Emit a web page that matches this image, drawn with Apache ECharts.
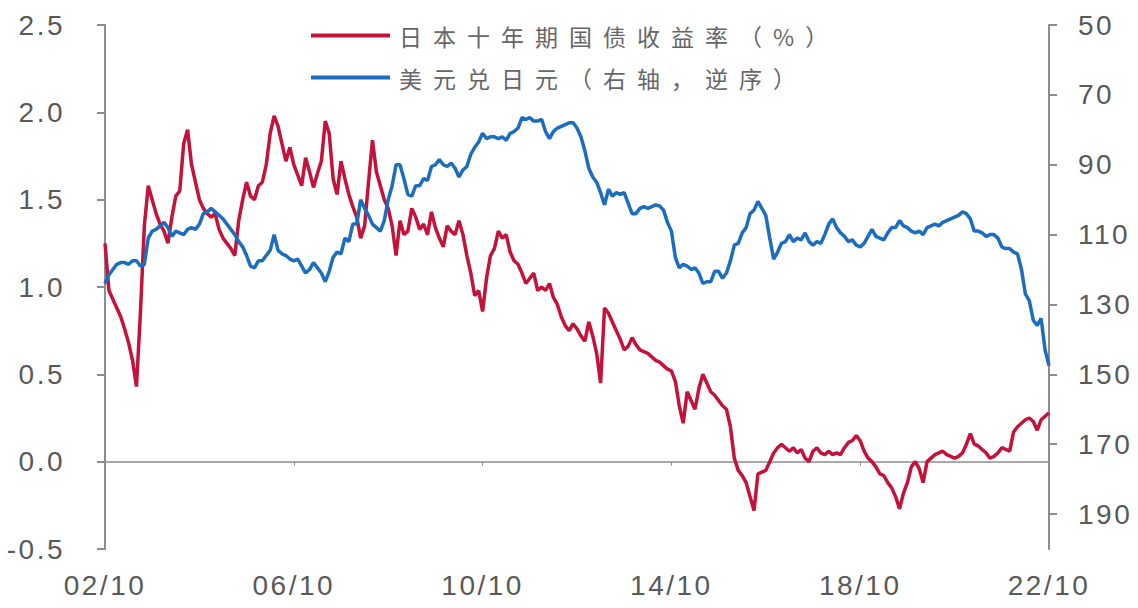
<!DOCTYPE html>
<html>
<head>
<meta charset="utf-8">
<script src="https://cdn.jsdelivr.net/npm/echarts@6/dist/echarts.min.js"></script>
<style>
html,body{margin:0;padding:0;background:#fff;}
#chart{width:1138px;height:608px;}
text[style*="Noto Sans CJK"]{letter-spacing:11px;}
text[style*="Liberation Sans"]{letter-spacing:2.5px;}
</style>
</head>
<body>
<div id="chart"></div>
<script>
// Months from 2002/10 to 2022/10 (category labels)
var startYear = 2002, startMonth = 10, monthCount = 241;
var months = [];
for (var i = 0; i < monthCount; i++) {
  var mm = startMonth - 1 + i;
  var y = startYear + Math.floor(mm / 12);
  var m = (mm % 12) + 1;
  months.push(y + '-' + (m < 10 ? '0' + m : '' + m));
}

var seriesNames = ['日本十年期国债收益率（%）', '美元兑日元（右轴，逆序）'];

// Japan 10Y government bond yield (%), monthly, 2002/10 - 2022/10
var jgb10y = [
  1.25, 0.98, 0.93,
  0.88, 0.83, 0.76, 0.68, 0.58, 0.43, 0.85, 1.35, 1.58, 1.50, 1.42, 1.36,
  1.32, 1.25, 1.40, 1.52, 1.55, 1.82, 1.90, 1.70, 1.60, 1.50, 1.45, 1.42,
  1.40, 1.42, 1.33, 1.28, 1.25, 1.22, 1.18, 1.38, 1.50, 1.60, 1.52, 1.50,
  1.58, 1.60, 1.70, 1.88, 1.98, 1.92, 1.82, 1.72, 1.80, 1.70, 1.64, 1.58,
  1.74, 1.66, 1.57, 1.65, 1.72, 1.95, 1.88, 1.62, 1.53, 1.72, 1.62, 1.53,
  1.46, 1.40, 1.28, 1.35, 1.60, 1.84, 1.66, 1.58, 1.50, 1.45, 1.35, 1.18,
  1.38, 1.30, 1.32, 1.45, 1.40, 1.33, 1.36, 1.30, 1.43, 1.34, 1.28, 1.23,
  1.35, 1.32, 1.30, 1.38, 1.30, 1.18, 1.08, 0.95, 0.98, 0.86, 1.05, 1.18,
  1.22, 1.32, 1.28, 1.30, 1.20, 1.15, 1.13, 1.08, 1.02, 1.05, 1.08, 0.98,
  1.00, 0.98, 1.02, 0.94, 0.90, 0.83, 0.78, 0.75, 0.79, 0.76, 0.72, 0.69,
  0.80, 0.72, 0.62, 0.45, 0.88, 0.85, 0.80, 0.75, 0.70, 0.64, 0.66, 0.71,
  0.67, 0.64, 0.63, 0.62, 0.60, 0.58, 0.57, 0.55, 0.53, 0.52, 0.46, 0.32,
  0.22, 0.40, 0.35, 0.30, 0.42, 0.50, 0.45, 0.40, 0.38, 0.35, 0.32, 0.30,
  0.20, 0.02, -0.05, -0.08, -0.12, -0.20, -0.28, -0.07, -0.06, -0.05, 0.00, 0.05,
  0.08, 0.10, 0.08, 0.06, 0.08, 0.05, 0.07, 0.02, 0.00, 0.06, 0.08, 0.05,
  0.04, 0.06, 0.04, 0.05, 0.04, 0.08, 0.11, 0.12, 0.15, 0.12, 0.06, 0.02,
  0.00, -0.03, -0.07, -0.08, -0.12, -0.15, -0.20, -0.27, -0.18, -0.12, -0.03, 0.00,
  -0.04, -0.12, 0.00, 0.02, 0.04, 0.05, 0.06, 0.04, 0.03, 0.02, 0.03, 0.05,
  0.10, 0.16, 0.10, 0.09, 0.07, 0.05, 0.02, 0.03, 0.05, 0.08, 0.07, 0.06,
  0.17, 0.20, 0.22, 0.24, 0.25, 0.23, 0.18, 0.24, 0.26, 0.28
];

// USD/JPY, monthly, 2002/10 - 2022/10 (right axis, inverted)
var usdjpy = [
  124, 121.5, 120,
  118.5, 118, 118, 118.5, 117.5, 117.5, 119, 118.5, 111, 109, 108.5, 107.5,
  106.5, 108, 110.5, 109, 109.5, 110, 108.5, 108, 108.5, 107, 104, 103.5,
  102.5, 103.5, 104.5, 105.5, 107, 108.5, 110, 112, 113.5, 116, 119, 119.5,
  117.5, 117.5, 116, 114.5, 110, 114.5, 115.5, 116, 117, 117.5, 117, 119,
  121, 120, 118, 119.5, 121, 123.5, 120.5, 116.5, 115, 115.5, 111, 112,
  107, 107, 100, 102.5, 104.5, 107, 108, 109, 106, 100, 96, 90,
  90, 94, 98.5, 99, 96, 96, 94, 94.5, 90.5, 90, 88.5, 90,
  90.5, 89.5, 91, 93.5, 91.5, 90.5, 87, 85, 83.5, 81, 82.5, 82,
  82, 82.5, 82, 83, 81, 80.5, 79.5, 76.5, 77, 76.5, 77.5, 77.5,
  77, 80.5, 82.5, 80.5, 79.5, 79, 78.5, 78, 78, 79.5, 82, 86,
  91, 93.5, 95, 98, 101.5, 97, 99, 98, 98.5, 98, 101, 104,
  104, 102.5, 102, 102.5, 102, 101.5, 101.8, 103, 106.5, 109, 116.5, 119.5,
  118.5, 119, 120, 119.5, 121, 124, 123.5, 123.5, 120.5, 120.5, 122.5, 121,
  117.5, 113, 112.5, 109.5, 108, 104, 103, 100.5, 102.5, 104.5, 111, 117,
  115, 112.5, 112, 110, 112, 111, 111.5, 109.5, 112, 113, 112, 112.5,
  110, 107, 105.5, 108, 109.5, 110.5, 112, 111.5, 113, 113.5, 112.5, 110.5,
  108.5, 110.5, 111, 111.5, 109.5, 108, 108, 106, 107.5, 108, 109, 109.5,
  109, 110, 108, 107.5, 107, 107.5, 106.5, 106, 105.5, 105, 104.5, 103.5,
  104, 105.5, 109, 109, 109.5, 110.5, 110, 110, 111, 113.5, 114, 114,
  115, 115.5, 120, 127, 129, 134.5, 136, 134, 143, 147.5
];

var leftTicks = [-0.5, 0, 0.5, 1.0, 1.5, 2.0, 2.5];
var rightTicks = [50, 70, 90, 110, 130, 150, 170, 190];

var axisColor = '#8c8c8c';
var labelColor = '#595959';
var labelFont = 'Liberation Sans';

var chart = echarts.init(document.getElementById('chart'), null, {renderer: 'svg'});
chart.setOption({
  animation: false,
  backgroundColor: '#ffffff',
  grid: {left: 105, right: 89, top: 25, bottom: 59, containLabel: false},
  legend: {
    orient: 'vertical',
    left: 306,
    top: 19,
    itemGap: 19,
    itemWidth: 79,
    itemHeight: 4,
    icon: 'rect',
    data: seriesNames,
    textStyle: {
      fontFamily: 'Noto Sans CJK SC',
      fontSize: 23,
      color: '#666666',
      padding: [0, 0, 0, 4]
    }
  },
  xAxis: [
    {
      type: 'category',
      data: months,
      boundaryGap: false,
      position: 'bottom',
      axisLine: {show: false},
      axisTick: {show: false},
      splitLine: {show: false},
      axisLabel: {
        interval: 47,
        margin: 22,
        color: labelColor,
        fontFamily: labelFont,
        fontSize: 28,
        formatter: function (v) { return v.slice(2, 4) + '/' + v.slice(5, 7); }
      }
    },
    {
      type: 'category',
      data: months,
      boundaryGap: false,
      position: 'bottom',
      axisLine: {show: true, onZero: true, onZeroAxisIndex: 0, lineStyle: {color: axisColor, width: 1.5}},
      axisTick: {show: true, interval: 47, length: 4, lineStyle: {color: axisColor}},
      axisLabel: {show: false},
      splitLine: {show: false}
    }
  ],
  yAxis: [
    {
      type: 'value',
      min: -0.5,
      max: 2.5,
      interval: 0.5,
      position: 'left',
      axisLine: {show: true, onZero: false, lineStyle: {color: axisColor, width: 2}},
      axisTick: {show: true, length: 8, lineStyle: {color: axisColor, width: 2}, customValues: leftTicks},
      splitLine: {show: false},
      axisLabel: {
        margin: 40,
        color: labelColor,
        fontFamily: labelFont,
        fontSize: 28,
        customValues: leftTicks,
        formatter: function (v) { return v.toFixed(1); }
      }
    },
    {
      type: 'value',
      min: 50,
      max: 200,
      interval: 20,
      inverse: true,
      position: 'right',
      axisLine: {show: true, onZero: false, lineStyle: {color: axisColor, width: 2}},
      axisTick: {show: true, length: 8, lineStyle: {color: axisColor, width: 2}, customValues: rightTicks},
      splitLine: {show: false},
      axisLabel: {
        margin: 29,
        color: labelColor,
        fontFamily: labelFont,
        fontSize: 28,
        customValues: rightTicks
      }
    }
  ],
  series: [
    {
      name: seriesNames[0],
      type: 'line',
      xAxisIndex: 0,
      yAxisIndex: 0,
      data: jgb10y,
      showSymbol: false,
      symbol: 'none',
      lineStyle: {color: '#C4123A', width: 3.5},
      itemStyle: {color: '#C4123A'},
      z: 2
    },
    {
      name: seriesNames[1],
      type: 'line',
      xAxisIndex: 0,
      yAxisIndex: 1,
      data: usdjpy,
      showSymbol: false,
      symbol: 'none',
      lineStyle: {color: '#1C6CC0', width: 3.5},
      itemStyle: {color: '#1C6CC0'},
      z: 3
    }
  ]
});
</script>
</body>
</html>
